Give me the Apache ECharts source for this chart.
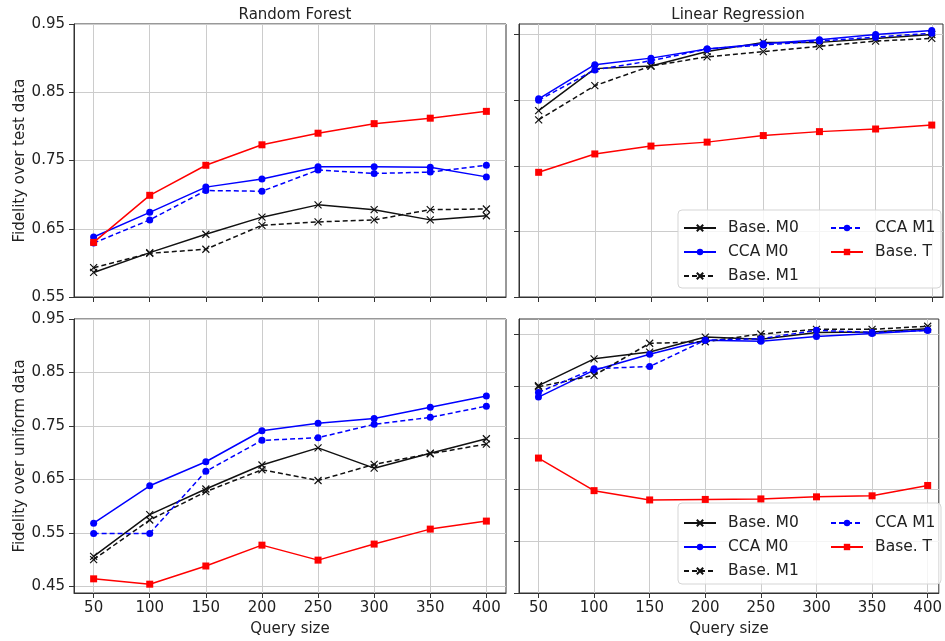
<!DOCTYPE html>
<html>
<head>
<meta charset="utf-8">
<script src="https://cdn.jsdelivr.net/npm/echarts@6/dist/echarts.min.js"></script>
<style>
  html, body { margin: 0; padding: 0; background: #ffffff; }
  #chart { width: 945px; height: 641px; }
</style>
</head>
<body>
<div id="chart"></div>
<script>
// x values, shared by all four panels
const querySizes = [50, 100, 150, 200, 250, 300, 350, 400];

// Random Forest - fidelity over test data
const rfTestBaseM0 = [0.586, 0.615, 0.642, 0.667, 0.685, 0.678, 0.663, 0.669];
const rfTestCcaM0  = [0.638, 0.674, 0.711, 0.723, 0.741, 0.741, 0.740, 0.726];
const rfTestBaseM1 = [0.593, 0.614, 0.620, 0.655, 0.660, 0.663, 0.678, 0.679];
const rfTestCcaM1  = [0.629, 0.663, 0.706, 0.705, 0.736, 0.731, 0.733, 0.743];
const rfTestBaseT  = [0.630, 0.699, 0.743, 0.773, 0.790, 0.804, 0.812, 0.822];

// Linear Regression - fidelity over test data (own scale, no tick labels)
const lrTestBaseM0 = [0.892, 0.924, 0.926, 0.937, 0.944, 0.944, 0.947, 0.950];
const lrTestCcaM0  = [0.901, 0.927, 0.932, 0.939, 0.943, 0.946, 0.950, 0.953];
const lrTestBaseM1 = [0.885, 0.911, 0.926, 0.933, 0.937, 0.941, 0.945, 0.947];
const lrTestCcaM1  = [0.900, 0.923, 0.930, 0.939, 0.942, 0.945, 0.948, 0.951];
const lrTestBaseT  = [0.845, 0.859, 0.865, 0.868, 0.873, 0.876, 0.878, 0.881];

// Random Forest - fidelity over uniform data
const rfUniBaseM0 = [0.506, 0.584, 0.632, 0.677, 0.709, 0.671, 0.699, 0.726];
const rfUniCcaM0  = [0.568, 0.638, 0.683, 0.741, 0.755, 0.764, 0.785, 0.806];
const rfUniBaseM1 = [0.500, 0.574, 0.627, 0.668, 0.648, 0.678, 0.698, 0.716];
const rfUniCcaM1  = [0.549, 0.549, 0.665, 0.723, 0.728, 0.753, 0.766, 0.787];
const rfUniBaseT  = [0.464, 0.454, 0.488, 0.527, 0.499, 0.529, 0.557, 0.572];

// Linear Regression - fidelity over uniform data (own scale, no tick labels)
const lrUniBaseM0 = [0.801, 0.853, 0.866, 0.895, 0.891, 0.904, 0.905, 0.911];
const lrUniCcaM0  = [0.779, 0.831, 0.862, 0.889, 0.887, 0.896, 0.902, 0.908];
const lrUniBaseM1 = [0.799, 0.821, 0.883, 0.886, 0.901, 0.910, 0.910, 0.916];
const lrUniCcaM1  = [0.788, 0.834, 0.838, 0.889, 0.892, 0.908, 0.904, 0.908];
const lrUniBaseT  = [0.661, 0.598, 0.580, 0.581, 0.582, 0.586, 0.588, 0.608];

// tick values
const topLeftTicks = [0.55, 0.65, 0.75, 0.85, 0.95];
const bottomLeftTicks = [0.45, 0.55, 0.65, 0.75, 0.85, 0.95];
const topRightTicks = [0.75, 0.80, 0.85, 0.90, 0.95];
const bottomRightTicks = [0.4, 0.5, 0.6, 0.7, 0.8, 0.9];

const FONT = "DejaVu Sans";
const TEXT = "#222";
const X_MARK = "path://M0,0L10,10M10,0L0,10";

// style of each method
const styles = {
  "Base. M0": { color: "#111", dash: "solid", symbol: X_MARK, size: 7 },
  "CCA M0":   { color: "#0000ff", dash: "solid", symbol: "circle", size: 7 },
  "Base. M1": { color: "#111", dash: [5, 3], symbol: X_MARK, size: 7 },
  "CCA M1":   { color: "#0000ff", dash: [5, 3], symbol: "circle", size: 7 },
  "Base. T":  { color: "#ff0000", dash: "solid", symbol: "rect", size: 7 },
};

function makeSeries(name, values, idx) {
  const s = styles[name];
  return {
    type: "line",
    name: name,
    xAxisIndex: idx,
    yAxisIndex: idx,
    data: querySizes.map((q, i) => [q, values[i]]),
    symbol: s.symbol,
    symbolSize: s.size,
    showAllSymbol: true,
    lineStyle: { color: s.color, width: 1.5, type: s.dash },
    itemStyle: { color: s.color, borderColor: s.color, borderWidth: s.symbol === X_MARK ? 1.2 : 0 },
    emphasis: { disabled: true },
  };
}

const panels = [
  [rfTestBaseM0, rfTestCcaM0, rfTestBaseM1, rfTestCcaM1, rfTestBaseT],
  [lrTestBaseM0, lrTestCcaM0, lrTestBaseM1, lrTestCcaM1, lrTestBaseT],
  [rfUniBaseM0, rfUniCcaM0, rfUniBaseM1, rfUniCcaM1, rfUniBaseT],
  [lrUniBaseM0, lrUniCcaM0, lrUniBaseM1, lrUniCcaM1, lrUniBaseT],
];
const names = ["Base. M0", "CCA M0", "Base. M1", "CCA M1", "Base. T"];

let series = [];
panels.forEach((p, idx) => {
  p.forEach((vals, k) => series.push(makeSeries(names[k], vals, idx)));
});

const gridStyle = { show: true, borderColor: "#333", borderWidth: 1, backgroundColor: "transparent" };

function xAxis(idx, bottom) {
  return {
    type: "value",
    gridIndex: idx,
    min: 32.5,
    max: idx % 2 === 0 ? 417.5 : 410,
    axisLine: { show: true, lineStyle: { color: "#333" } },
    axisTick: { show: true, length: 5, lineStyle: { color: "#333" }, customValues: querySizes },
    axisLabel: {
      show: bottom, customValues: querySizes, margin: 8,
      fontFamily: FONT, fontSize: 15, color: TEXT,
    },
    splitLine: { show: true, lineStyle: { color: "#cccccc", width: 1 } },
    name: bottom ? "Query size" : "",
    nameLocation: "middle",
    nameGap: 29,
    nameTextStyle: { fontFamily: FONT, fontSize: 15, color: TEXT },
  };
}

function yAxis(idx, min, max, ticks, label, name) {
  return {
    type: "value",
    gridIndex: idx,
    min: min,
    max: max,
    axisLine: { show: true, lineStyle: { color: "#333" } },
    axisTick: { show: true, length: 5, lineStyle: { color: "#333" }, customValues: ticks },
    axisLabel: {
      show: label, customValues: ticks, margin: 9,
      formatter: (v) => v.toFixed(2),
      fontFamily: FONT, fontSize: 15, color: TEXT,
    },
    splitLine: { show: true, lineStyle: { color: "#cccccc", width: 1 } },
    name: name,
    nameLocation: "middle",
    nameGap: 46,
    nameTextStyle: { fontFamily: FONT, fontSize: 15, color: TEXT },
  };
}

function legendCol(left, top, data) {
  return {
    left: left, top: top, orient: "vertical", data: data,
    itemWidth: 32, itemHeight: 8, itemGap: 8, padding: 0,
    selectedMode: false,
    textStyle: { fontFamily: FONT, fontSize: 15.5, lineHeight: 16, color: TEXT, padding: [0, 0, 0, 7] },
  };
}

const option = {
  animation: false,
  backgroundColor: "#ffffff",
  title: [
    { text: "Random Forest", left: 290, top: 3, textAlign: "center",
      textStyle: { fontFamily: FONT, fontSize: 15, fontWeight: "normal", color: TEXT } },
    { text: "Linear Regression", left: 733, top: 3, textAlign: "center",
      textStyle: { fontFamily: FONT, fontSize: 15, fontWeight: "normal", color: TEXT } },
  ],
  grid: [
    Object.assign({ left: 74, top: 24, width: 432, height: 273 }, gridStyle),
    Object.assign({ left: 519, top: 24, width: 424, height: 273 }, gridStyle),
    Object.assign({ left: 74, top: 319, width: 432, height: 274 }, gridStyle),
    Object.assign({ left: 519, top: 319, width: 424, height: 274 }, gridStyle),
  ],
  xAxis: [xAxis(0, false), xAxis(1, false), xAxis(2, true), xAxis(3, true)],
  yAxis: [
    yAxis(0, 0.55, 0.95, topLeftTicks, true, "Fidelity over test data"),
    yAxis(1, 0.75, 0.958, topRightTicks, false, ""),
    yAxis(2, 0.4375, 0.95, bottomLeftTicks, true, "Fidelity over uniform data"),
    yAxis(3, 0.4, 0.93, bottomRightTicks, false, ""),
  ],
  // legend boxes (both right panels)
  graphic: [
    { type: "rect", z: 3, shape: { x: 678, y: 210, width: 263, height: 78, r: 4 },
      style: { fill: "rgba(255,255,255,0.8)", stroke: "#d5d5d5", lineWidth: 1 } },
    { type: "rect", z: 3, shape: { x: 678, y: 503, width: 263, height: 81, r: 4 },
      style: { fill: "rgba(255,255,255,0.8)", stroke: "#d5d5d5", lineWidth: 1 } },
  ],
  legend: [
    legendCol(683, 220, ["Base. M0", "CCA M0", "Base. M1"]),
    legendCol(830, 220, ["CCA M1", "Base. T"]),
    legendCol(683, 515, ["Base. M0", "CCA M0", "Base. M1"]),
    legendCol(830, 515, ["CCA M1", "Base. T"]),
  ],
  series: series,
};

const chart = echarts.init(document.getElementById("chart"));
chart.setOption(option);
</script>
</body>
</html>
